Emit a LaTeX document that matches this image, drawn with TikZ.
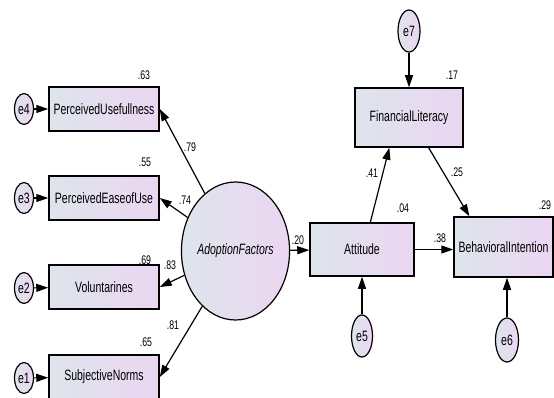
\documentclass[tikz,border=0pt]{standalone}
\usepackage{fontspec}
\setmainfont[FakeStretch=0.70]{Liberation Sans}
\usepackage{tikz}
\usetikzlibrary{positioning, calc, arrows.meta, shapes.geometric}

\definecolor{boxleft}{RGB}{222,228,236}
\definecolor{boxright}{RGB}{235,214,241}

\tikzset{
    obsbox/.style={draw, line width=1.5pt, rectangle, left color=boxleft, right color=boxright,
        minimum width=110, minimum height=44, inner sep=0pt, font=\fontsize{15}{17}\selectfont},
    errvar/.style={draw, line width=1.2pt, ellipse, left color=boxleft, right color=boxright,
        minimum width=19, minimum height=31, inner sep=0pt, font=\fontsize{15}{17}\selectfont},
    latent/.style={draw, line width=1.2pt, ellipse, left color=boxleft, right color=boxright,
        minimum width=85, minimum height=138, inner sep=0pt, font=\fontsize{15}{17}\selectfont\itshape},
    coef/.style={font=\fontsize{12.5}{14}\selectfont, inner sep=0pt},
    path/.style={-{Triangle[length=12pt,width=8pt]}, line width=1.2pt},
}

\begin{document}
\begin{tikzpicture}[x=1pt, y=-1pt]

    \useasboundingbox[fill=white] (0,0) rectangle (554,398);

    % ================= indicators =================
    \node[obsbox] (pu) at (104,109) {PerceivedUsefullness};
    \node[obsbox] (peou) at (104,198) {PerceivedEaseofUse};
    \node[obsbox] (vol) at (104,287) {Voluntarines};
    \node[obsbox] (sn) at (104,377) {SubjectiveNorms};

    % Error terms
    \node[errvar] (e4) at (24,109) {e4};
    \node[errvar] (e3) at (24,198) {e3};
    \node[errvar] (e2) at (24,288) {e2};
    \node[errvar] (e1) at (24,378) {e1};

    \draw[path] (e4) -- (pu);
    \draw[path] (e3) -- (peou);
    \draw[path] (e2) -- (vol);
    \draw[path] (e1) -- (sn);

    % ================= latent factor =================
    \node[latent] (af) at (235.5,251) {AdoptionFactors};

    \draw[path] (af) -- (pu.east);
    \draw[path] (af) -- (peou.east);
    \draw[path] (af) -- (vol.east);
    \draw[path] (af) -- (sn.east);

    % Loadings and R-squared
    \node[coef] at (144,75) {.63};
    \node[coef] at (145,162) {.55};
    \node[coef] at (145,260) {.69};
    \node[coef] at (146,342) {.65};
    \node[coef] at (190,147) {.79};
    \node[coef] at (185,200) {.74};
    \node[coef] at (170,265) {.83};
    \node[coef] at (173,325) {.81};

    % ================= structural part =================
    \node[obsbox, minimum width=104, minimum height=53] (att) at (362,249.5) {Attitude};
    \node[obsbox, minimum width=108, minimum height=59] (fl) at (409,117.5) {FinancialLiteracy};
    \node[obsbox, minimum width=99, minimum height=60] (bi) at (503.5,247) {BehavioralIntention};

    \node[errvar, minimum width=22, minimum height=42] (e7) at (409,31) {e7};
    \node[errvar, minimum width=21, minimum height=42] (e5) at (362,336) {e5};
    \node[errvar, minimum width=23, minimum height=44] (e6) at (507,340) {e6};

    \draw[path] (af) -- (att);
    \draw[path] (att.73) -- (fl.237);
    \draw[path] (fl.303) -- (bi.138);
    \draw[path] (att) -- (att -| bi.west);

    \draw[path] (e7) -- (fl);
    \draw[path] (e5) -- (att);
    \draw[path] (e6) -- (e6 |- bi.south);

    % Coefficients
    \node[coef] at (298,240) {.20};
    \node[coef] at (372,173) {.41};
    \node[coef] at (403,208) {.04};
    \node[coef] at (452,75) {.17};
    \node[coef] at (457,172) {.25};
    \node[coef] at (440,238) {.38};
    \node[coef] at (545,205) {.29};

\end{tikzpicture}
\end{document}
